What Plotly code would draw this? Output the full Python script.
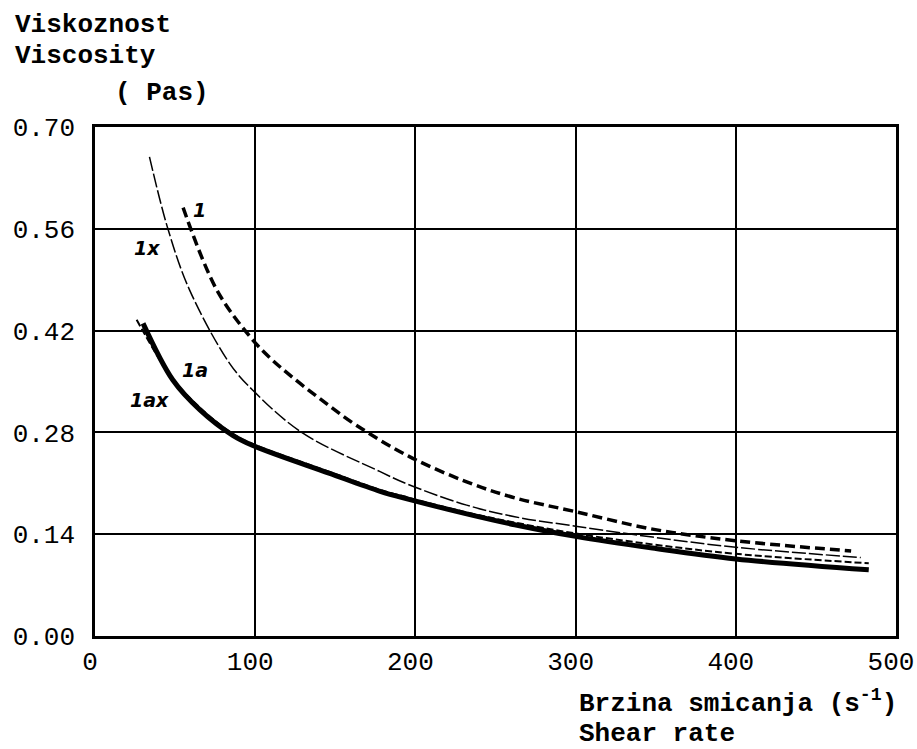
import plotly.graph_objects as go

# ---- data ----
shear_1 = [55, 76, 97, 109, 122, 140, 163, 196, 232, 262, 300, 348, 400, 472]
visc_1 = [0.589, 0.476, 0.411, 0.383, 0.358, 0.327, 0.290, 0.247, 0.212, 0.190, 0.171, 0.147, 0.131, 0.117]

shear_1x = [34, 45.5, 59, 84, 98.5, 129, 178, 196, 232, 262, 300, 348, 400, 478]
visc_1x = [0.659, 0.560, 0.476, 0.375, 0.338, 0.280, 0.226, 0.208, 0.180, 0.164, 0.151, 0.136, 0.122, 0.108]

shear_1a = [30, 48.6, 65.5, 86, 98.5, 146, 178, 196, 232, 262, 300, 348, 400, 483]
visc_1a = [0.430, 0.352, 0.311, 0.276, 0.262, 0.224, 0.199, 0.188, 0.168, 0.153, 0.137, 0.121, 0.106, 0.091]

shear_1ax = [26, 48, 66, 86, 98.5, 146, 178, 196, 232, 262, 300, 348, 400, 483]
visc_1ax = [0.435, 0.355, 0.313, 0.278, 0.264, 0.226, 0.201, 0.190, 0.170, 0.156, 0.141, 0.126, 0.113, 0.100]

x_ticks = [0, 100, 200, 300, 400, 500]
y_ticks = [0.00, 0.14, 0.28, 0.42, 0.56, 0.70]

curve_labels = ["1", "1x", "1a", "1ax"]
label_x = [65.5, 32.5, 62.4, 34.3]
label_y = [0.586, 0.534, 0.366, 0.325]

mono = "Liberation Mono"

fig = go.Figure()
fig.add_trace(go.Scatter(x=shear_1, y=visc_1, mode="lines",
                         line=dict(color="black", width=3.5, dash="10px,5px", shape="spline", smoothing=1.0), name="1"))
fig.add_trace(go.Scatter(x=shear_1x, y=visc_1x, mode="lines",
                         line=dict(color="black", width=1.5, dash="14px,3px", shape="spline", smoothing=1.0), name="1x"))
fig.add_trace(go.Scatter(x=shear_1ax, y=visc_1ax, mode="lines",
                         line=dict(color="black", width=2, dash="7px,3px", shape="spline", smoothing=1.0), name="1ax"))
fig.add_trace(go.Scatter(x=shear_1a, y=visc_1a, mode="lines",
                         line=dict(color="black", width=5, shape="spline", smoothing=1.0), name="1a"))

for t, lx, ly in zip(curve_labels, label_x, label_y):
    fig.add_annotation(x=lx, y=ly, text=t, showarrow=False, xanchor="center", yanchor="middle",
                       font=dict(family="DejaVu Sans", size=19, color="black", weight="bold", style="italic"))

title_font = dict(family=mono, size=26, color="black", weight="bold")
fig.add_annotation(xref="paper", yref="paper", x=-0.1024, y=1.200, text="Viskoznost", showarrow=False,
                   xanchor="left", yanchor="middle", font=title_font)
fig.add_annotation(xref="paper", yref="paper", x=-0.1024, y=1.139, text="Viscosity", showarrow=False,
                   xanchor="left", yanchor="middle", font=title_font)
fig.add_annotation(xref="paper", yref="paper", x=0.0225, y=1.067, text="( Pas)", showarrow=False,
                   xanchor="left", yanchor="middle", font=title_font)
fig.add_annotation(xref="paper", yref="paper", x=0.6017, y=-0.1300, text="Brzina smicanja (s<sup>-1</sup>)", showarrow=False,
                   xanchor="left", yanchor="middle", font=title_font)
fig.add_annotation(xref="paper", yref="paper", x=0.6017, y=-0.192, text="Shear rate", showarrow=False,
                   xanchor="left", yanchor="middle", font=title_font)

axis_common = dict(showline=True, mirror=True, linecolor="black", linewidth=2.5,
                   showgrid=True, gridcolor="black", gridwidth=2, zeroline=False,
                   ticks="", tickfont=dict(family=mono, size=26, color="black"),
                   ticklabeloverflow="allow", automargin=False)

fig.update_xaxes(range=[0, 500], tickvals=x_ticks, ticktext=[str(v) for v in x_ticks],
                 ticklabelshift=-5, **axis_common)
fig.update_yaxes(range=[0, 0.70], tickvals=y_ticks, ticktext=[f"{v:.2f}" for v in y_ticks],
                 ticklabelstandoff=12, **axis_common)

fig.update_layout(width=917, height=749, margin=dict(l=95, r=21, t=127, b=113, autoexpand=False),
                  plot_bgcolor="white", paper_bgcolor="white", showlegend=False)

fig.write_html("out.html")
